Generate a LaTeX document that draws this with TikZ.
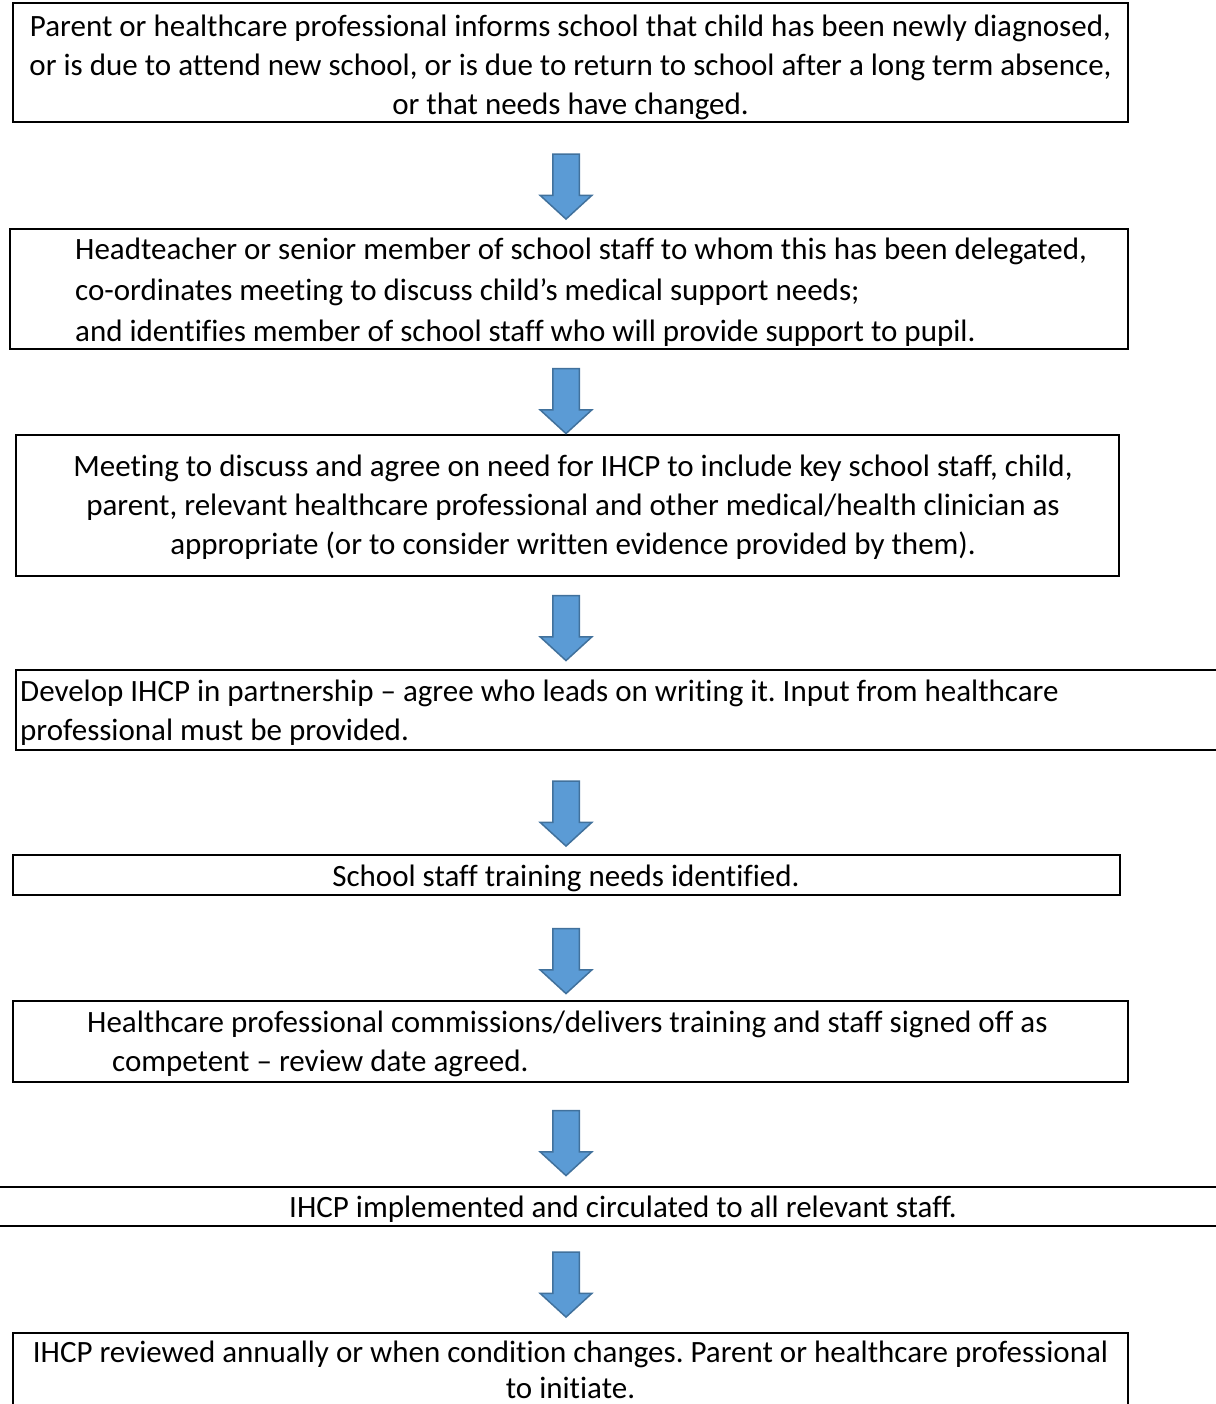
\documentclass[tikz,border=0pt]{standalone}
\usepackage{fontspec}
\setmainfont{Carlito}[Ligatures=CommonOff]
\usetikzlibrary{shapes.arrows, fit}
\definecolor{arrowfill}{HTML}{5B9BD5}
\definecolor{arrowline}{HTML}{41719C}
\tikzset{
  box/.style       = {rectangle, draw=black, line width=2.5pt, inner sep=0pt},
  txt/.style       = {inner sep=0pt, font=\fontsize{31}{39}\selectfont},
  downarrow/.style = {single arrow, shape border rotate=270, draw=arrowline,
                      fill=arrowfill, line width=1.5pt, inner xsep=12.5pt, inner ysep=0pt,
                      minimum height=65pt, minimum width=50pt,
                      single arrow head extend=12.5pt, single arrow tip angle=95},
}
\frenchspacing
\begin{document}
\begin{tikzpicture}[x=1pt, y=-1pt]
    \useasboundingbox (0,0) rectangle (1215,1404);
    % boxes
    \node[box, fit={(13,3) (1128,122)}]    (b1) {};
    \node[box, fit={(10,229) (1128,349)}]  (b2) {};
    \node[box, fit={(16,435) (1119,576)}]  (b3) {};
    \node[box, fit={(16,670) (1240,750)}]  (b4) {};
    \node[box, fit={(13,855) (1120,895)}]  (b5) {};
    \node[box, fit={(13,1001) (1128,1082)}] (b6) {};
    \node[box, fit={(-20,1187) (1240,1226)}] (b7) {};
    \node[box, fit={(13,1333) (1128,1440)}] (b8) {};
    % texts
    \node[txt, align=center] (t1) at (570.5,67) {Parent or healthcare professional informs school that child has been newly diagnosed,\\
        or is due to attend new school, or is due to return to school after a long term absence,\\
        or that needs have changed.};
    \node[txt, align=left, anchor=west] (t2) at (75,292) {Headteacher or senior member of school staff to whom this has been delegated,\\[2pt]
        co-ordinates meeting to discuss child’s medical support needs;\\[2pt]
        and identifies member of school staff who will provide support to pupil.};
    \node[txt, align=center] (t3) at (573,507.5) {Meeting to discuss and agree on need for IHCP to include key school staff, child,\\
        parent, relevant healthcare professional and other medical/health clinician as\\
        appropriate (or to consider written evidence provided by them).};
    \node[txt, align=left, anchor=west] (t4) at (20,712.5) {Develop IHCP in partnership – agree who leads on writing it. Input from healthcare\\
        professional must be provided.};
    \node[txt] (t5) at (566,878) {School staff training needs identified.};
    \node[txt, align=left, anchor=west] (t6) at (87,1044) {Healthcare professional commissions/delivers training and staff signed off as\\
        \hspace*{25pt}competent – review date agreed.};
    \node[txt] (t7) at (623,1209) {IHCP implemented and circulated to all relevant staff.};
    \node[txt, align=center] (t8) at (570.5,1370) {IHCP reviewed annually or when condition changes. Parent or healthcare professional\\[-3pt]
        to initiate.};
    % arrows
    \node[downarrow] (a1) at (566,180.5) {};
    \node[downarrow] (a2) at (566,395) {};
    \node[downarrow] (a3) at (566,622) {};
    \node[downarrow] (a4) at (566,807.5) {};
    \node[downarrow] (a5) at (566,955) {};
    \node[downarrow] (a6) at (566,1137) {};
    \node[downarrow] (a7) at (566,1278.5) {};
\end{tikzpicture}
\end{document}
